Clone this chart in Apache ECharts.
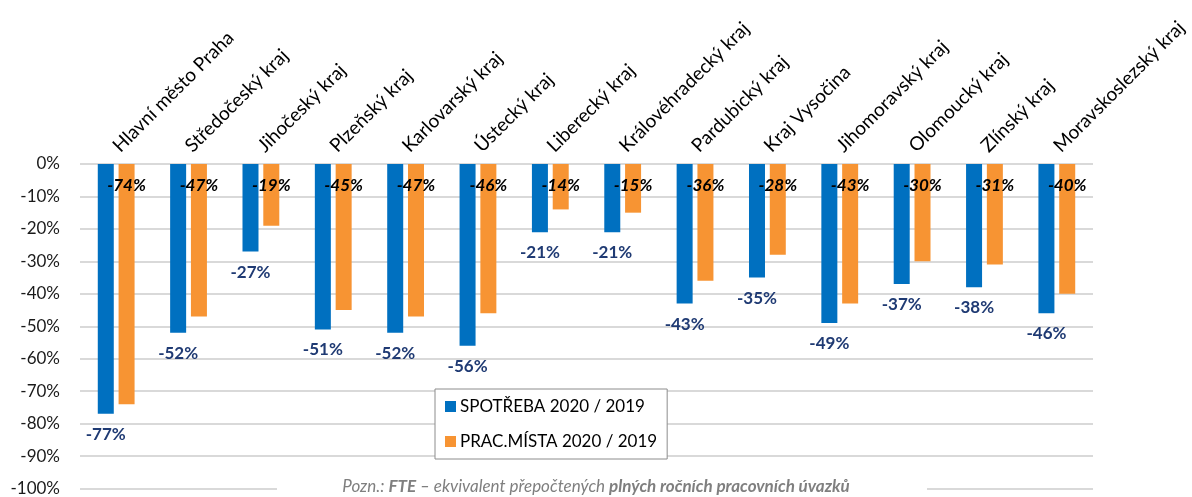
<!DOCTYPE html>
<html>
<head>
<meta charset="utf-8">
<script src="https://cdn.jsdelivr.net/npm/echarts@6/dist/echarts.min.js"></script>
<style>
  html, body { margin: 0; padding: 0; background: #fff; }
  #chart { width: 1192px; height: 497px; }
</style>
</head>
<body>
<div id="chart"></div>
<script type="text/javascript">
    // kraje
    var regions = ['Hlavní město Praha', 'Středočeský kraj', 'Jihočeský kraj', 'Plzeňský kraj',
        'Karlovarský kraj', 'Ústecký kraj', 'Liberecký kraj', 'Královéhradecký kraj',
        'Pardubický kraj', 'Kraj Vysočina', 'Jihomoravský kraj', 'Olomoucký kraj',
        'Zlínský kraj', 'Moravskoslezský kraj'];
    var spotreba = [-77, -52, -27, -51, -52, -56, -21, -21, -43, -35, -49, -37, -38, -46];
    var pracMista = [-74, -47, -19, -45, -47, -46, -14, -15, -36, -28, -43, -30, -31, -40];
    var seriesNames = ['SPOTŘEBA 2020 / 2019', 'PRAC.MÍSTA 2020 / 2019'];
    var yTicks = { min: -100, max: 0, step: 10 };

    var font = 'Lato, "Noto Sans", sans-serif';
    var chart = echarts.init(document.getElementById('chart'));

    var option = {
        animation: false,
        textStyle: { fontFamily: font },
        grid: { left: 80, right: 99, top: 164, bottom: 8 },
        legend: {
            orient: 'vertical',
            left: 435,
            top: 389,
            padding: [9, 10, 9, 10],
            itemGap: 18,
            itemWidth: 11,
            itemHeight: 11,
            icon: 'rect',
            backgroundColor: '#fff',
            borderColor: '#8c8c8c',
            borderWidth: 1,
            textStyle: { fontFamily: font, fontSize: 17, color: '#000', padding: [0, 0, 0, -1] },
            data: seriesNames
        },
        xAxis: {
            type: 'category',
            position: 'top',
            data: regions,
            axisLine: { show: false },
            axisTick: { show: false },
            axisLabel: {
                rotate: 45,
                margin: 15,
                fontSize: 19,
                color: '#000',
                interval: 0
            }
        },
        yAxis: {
            type: 'value',
            min: yTicks.min,
            max: yTicks.max,
            interval: yTicks.step,
            axisLine: { show: false },
            axisTick: { show: false },
            splitLine: { lineStyle: { color: '#d9d9d9', width: 2 } },
            axisLabel: {
                margin: 20,
                fontSize: 17,
                color: '#1a1a1a',
                formatter: '{value}%'
            }
        },
        series: [
            {
                name: seriesNames[0],
                type: 'bar',
                data: spotreba,
                barWidth: 16,
                barGap: '30%',
                itemStyle: { color: '#0070c0' },
                label: {
                    show: true,
                    position: 'bottom',
                    distance: 12,
                    fontSize: 17,
                    fontWeight: 'bold',
                    color: '#1f3a73',
                    formatter: '{c}%'
                }
            },
            {
                name: seriesNames[1],
                type: 'bar',
                data: pracMista,
                barWidth: 16,
                itemStyle: { color: '#f79433' },
                label: {
                    show: true,
                    position: 'insideTop',
                    distance: 13,
                    fontSize: 17,
                    fontWeight: 'bold',
                    fontStyle: 'italic',
                    color: '#000',
                    formatter: '{c}%'
                }
            }
        ],
        graphic: [
            {
                type: 'rect',
                left: 277,
                top: 479,
                shape: { width: 650, height: 18 },
                style: { fill: '#fff' },
                z: 10
            },
            {
                type: 'text',
                left: 'center',
                top: 478,
                z: 11,
                style: {
                    text: '{i|Pozn.: }{b|FTE}{i| – ekvivalent přepočtených }{b|plných ročních pracovních úvazků}',
                    rich: {
                        i: { fontFamily: font, fontSize: 17, fontStyle: 'italic', fill: '#7f7f7f' },
                        b: { fontFamily: font, fontSize: 17, fontStyle: 'italic', fontWeight: 'bold', fill: '#7f7f7f' }
                    }
                }
            }
        ]
    };

    chart.setOption(option);
</script>
</body>
</html>
